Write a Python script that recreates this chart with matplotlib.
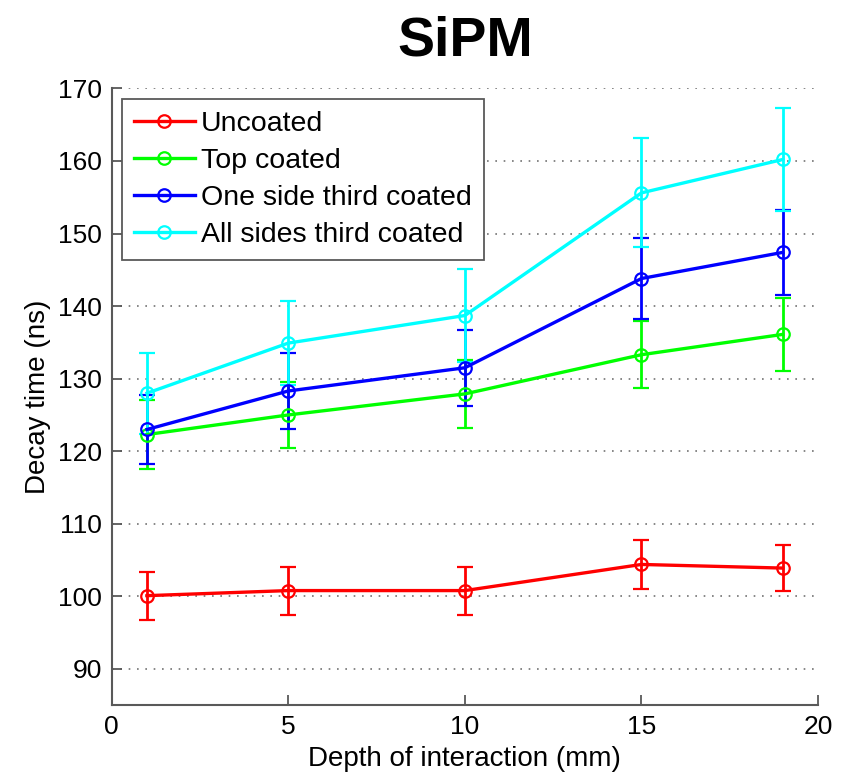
import matplotlib
matplotlib.use("Agg")
import matplotlib.pyplot as plt

plt.rcParams['font.family'] = ['Liberation Sans', 'DejaVu Sans']

# depth of interaction (mm) and decay times (ns) with their error bars
depth = [1, 5, 10, 15, 19]

uncoated = [100.1, 100.8, 100.8, 104.4, 103.9]
uncoated_err = [3.3, 3.3, 3.3, 3.4, 3.2]

top_coated = [122.3, 125.0, 127.9, 133.3, 136.1]
top_coated_err = [4.7, 4.6, 4.7, 4.6, 5.0]

one_side = [123.0, 128.3, 131.5, 143.8, 147.4]
one_side_err = [4.8, 5.2, 5.2, 5.6, 5.9]

all_sides = [128.0, 134.9, 138.7, 155.6, 160.2]
all_sides_err = [5.6, 5.8, 6.4, 7.5, 7.1]

names = ["Uncoated", "Top coated", "One side third coated", "All sides third coated"]
values = [uncoated, top_coated, one_side, all_sides]
errors = [uncoated_err, top_coated_err, one_side_err, all_sides_err]
colors = [(1.0, 0.0, 0.0), (0.0, 1.0, 0.0), (0.0, 0.0, 1.0), (0.0, 1.0, 1.0)]

fig = plt.figure(figsize=(8.46, 7.75), dpi=100)
ax = fig.add_axes([0.132, 0.090, 0.835, 0.796])

handles = []
for vals, errs, col in zip(values, errors, colors):
    eb = ax.errorbar(depth, vals, yerr=errs, color=col, lw=2.4,
                     marker='o', ms=9, mfc='none', mec=col, mew=1.6,
                     elinewidth=2.0, capsize=6, capthick=2.0)
    handles.append(eb.lines[0])

ax.set_xlim(0, 20)
ax.set_ylim(85, 170)
ax.set_xticks([0, 5, 10, 15, 20])
ax.set_yticks(range(90, 171, 10))

# horizontal dotted grid only, like a MATLAB box-off plot
ax.yaxis.grid(True, linestyle=(0, (1, 4)), color='0.45', lw=1.2)
ax.set_axisbelow(True)
for side in ('top', 'right'):
    ax.spines[side].set_visible(False)
for side in ('left', 'bottom'):
    ax.spines[side].set_color('0.35')
    ax.spines[side].set_linewidth(1.5)
ax.tick_params(direction='in', length=7, width=1.3, color='0.35',
               labelsize=19, pad=7)

ax.set_xlabel("Depth of interaction (mm)", fontsize=20, labelpad=5)
ax.set_ylabel("Decay time (ns)", fontsize=20, labelpad=5)
ax.set_title("SiPM", fontsize=40, fontweight='bold', pad=24)

leg = ax.legend(handles, names, loc='upper left', bbox_to_anchor=(0.014, 0.982),
                borderaxespad=0, fontsize=20.5, handlelength=2.15,
                handletextpad=0.22, labelspacing=0.38, borderpad=0.42,
                fancybox=False, framealpha=1, edgecolor='0.35')
leg.get_frame().set_linewidth(1.3)

fig.savefig("out.png", dpi=100)
